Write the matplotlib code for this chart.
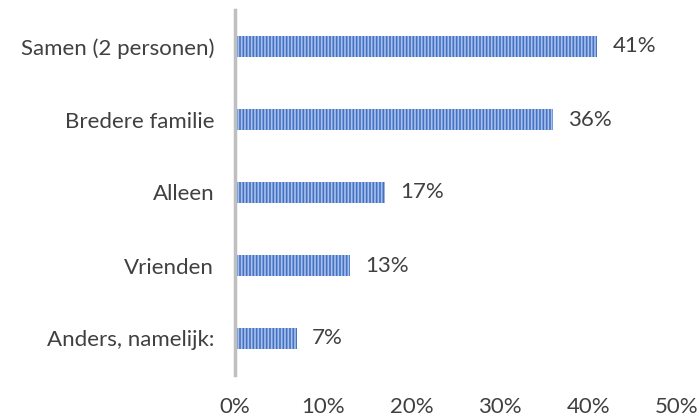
import matplotlib
matplotlib.use("Agg")
import matplotlib.pyplot as plt

categories = ["Samen (2 personen)", "Bredere familie", "Alleen", "Vrienden", "Anders, namelijk:"]
values = [41, 36, 17, 13, 7]
ticks = [0, 10, 20, 30, 40, 50]
tick_labels = ["0%", "10%", "20%", "30%", "40%", "50%"]

plt.rcParams['font.family'] = ['Lato', 'DejaVu Sans']
plt.rcParams['hatch.linewidth'] = 1.2

fig = plt.figure(figsize=(7, 4.17), dpi=100)
ax = fig.add_axes([235/700, 1-375/417, (677-235)/700, (375-10)/417])

ypos = list(range(len(categories)))[::-1]
bars = ax.barh(ypos, values, height=0.3, color="#4472C4", edgecolor="#A9C1EA",
               linewidth=0, hatch="|||||")
for y, v in zip(ypos, values):
    ax.text(v + 1.7, y, f"{v}%", va="center", ha="left", fontsize=16, color="#404040")

ax.set_xlim(0, 50)
ax.set_ylim(-0.5, len(categories) - 0.5)
ax.set_yticks(ypos)
ax.set_yticklabels(categories, fontsize=16, color="#404040")
ax.set_xticks(ticks)
ax.set_xticklabels(tick_labels, fontsize=16, color="#404040")
ax.tick_params(axis="y", length=0, pad=15)
ax.tick_params(axis="x", length=0, pad=16)
for s in ["top", "right", "bottom"]:
    ax.spines[s].set_visible(False)
ax.spines["left"].set_color("#BFBFBF")
ax.spines["left"].set_linewidth(2.5)

fig.savefig("out.png", dpi=100)
